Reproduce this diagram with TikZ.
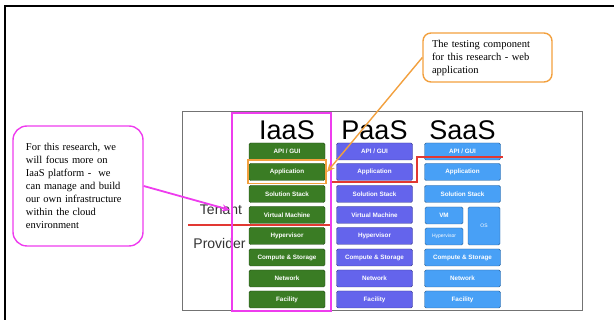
\documentclass[tikz,border=0pt]{standalone}
\usepackage{fontspec}
\setmainfont{Liberation Serif}
\newfontfamily\arialfont{Liberation Sans}
\usetikzlibrary{arrows.meta,fit}
\definecolor{iaasgreen}{RGB}{58,124,36}
\definecolor{paasblue}{RGB}{100,100,236}
\definecolor{saasblue}{RGB}{72,160,246}
\definecolor{focusmagenta}{RGB}{238,60,238}
\definecolor{noteorange}{RGB}{242,160,62}
\definecolor{tenantred}{RGB}{226,56,50}
\begin{document}
\begin{tikzpicture}[x=1pt,y=-1pt,
	layer/.style={rectangle,rounded corners=1.5pt,minimum width=76pt,minimum height=17pt,inner sep=0pt,text=white,font=\arialfont\bfseries\fontsize{6.3}{7}\selectfont},
	iaas/.style={layer,fill=iaasgreen,draw=iaasgreen!60!black},
	paas/.style={layer,fill=paasblue,draw=paasblue!60!black},
	saas/.style={layer,fill=saasblue,draw=saasblue!60!black},
	small/.style={font=\arialfont\fontsize{5}{6}\selectfont},
	title/.style={anchor=base,font=\arialfont\fontsize{27}{30}\selectfont},
	side/.style={anchor=base,text=black!80,font=\arialfont\fontsize{14}{16}\selectfont},
	callout/.style={rectangle,align=left,line width=1.4pt,font=\fontsize{10.5}{13}\selectfont}]
	\useasboundingbox (0,0) rectangle (614,320);
	% page frame and slide
	\draw[line width=2.5pt] (614,6) -- (5,6) -- (5,320);
	\draw[black!55,line width=1pt] (182,112) rectangle (582,311);
	\node[title] (iaas) at (287,140) {IaaS};
	\node[title] (paas) at (374.5,140) {PaaS};
	\node[title] (saas) at (462.5,140) {SaaS};
	\node[side] (tenant) at (221,215) {Tenant};
	\node[side] (provider) at (219.5,249) {Provider};
	% IaaS stack
	\node[iaas] (i1) at (287,151.5) {API / GUI};
	\node[iaas] (i2) at (287,172) {Application};
	\node[iaas] (i3) at (287,194) {Solution Stack};
	\node[iaas] (i4) at (287,215) {Virtual Machine};
	\node[iaas] (i5) at (287,236) {Hypervisor};
	\node[iaas] (i6) at (287,257.5) {Compute \& Storage};
	\node[iaas] (i7) at (287,278.5) {Network};
	\node[iaas] (i8) at (287,299.5) {Facility};
	% PaaS stack
	\node[paas] (p1) at (374.5,151.5) {API / GUI};
	\node[paas] (p2) at (374.5,172) {Application};
	\node[paas] (p3) at (374.5,194) {Solution Stack};
	\node[paas] (p4) at (374.5,215) {Virtual Machine};
	\node[paas] (p5) at (374.5,236) {Hypervisor};
	\node[paas] (p6) at (374.5,257.5) {Compute \& Storage};
	\node[paas] (p7) at (374.5,278.5) {Network};
	\node[paas] (p8) at (374.5,299.5) {Facility};
	% SaaS stack
	\node[saas] (s1) at (462.5,151.5) {API / GUI};
	\node[saas] (s2) at (462.5,172) {Application};
	\node[saas] (s3) at (462.5,194) {Solution Stack};
	\node[saas,minimum width=38pt] (s4) at (444,215.5) {VM};
	\node[saas,small,minimum width=38pt] (s5) at (444,236.5) {Hypervisor};
	\node[saas,small,minimum width=32pt,minimum height=38pt] (os) at (484,226) {OS};
	\node[saas] (s6) at (462.5,257.5) {Compute \& Storage};
	\node[saas] (s7) at (462.5,278.5) {Network};
	\node[saas] (s8) at (462.5,299.5) {Facility};
	% tenant / provider split
	\draw[tenantred,line width=1.2pt] (188,225) -| (331,182) -| (417,157) -- (503,157);
	\draw[focusmagenta,line width=1.6pt] (232,113) rectangle (331,311);
	\node[draw=noteorange,line width=1.6pt,fit=(i2),inner xsep=1pt,inner ysep=3pt] (appframe) {};
	% notes
	\node[callout,draw=focusmagenta,rounded corners=14pt,text width=104pt,inner xsep=13pt,minimum height=120pt] (iaasnote) at (78,186)
		{For this research, we\\ will focus more on\\ IaaS platform -\ \ we\\ can manage and build\\ our own infrastructure\\ within the cloud\\ environment};
	\node[callout,draw=noteorange,rounded corners=8pt,text width=111pt,inner xsep=9pt,minimum height=49pt] (testnote) at (487.5,57.5)
		{The testing component\\ for this research - web\\ application};
	\coordinate (tenantpt) at (230,210);
	\draw[focusmagenta,line width=1.8pt,-{Stealth[length=8pt,width=7pt]}] (iaasnote.east) -- (tenantpt);
	\draw[noteorange,line width=1.4pt,-{Stealth[length=8pt,width=7pt]}] (testnote.west) -- (appframe.east);
\end{tikzpicture}
\end{document}
